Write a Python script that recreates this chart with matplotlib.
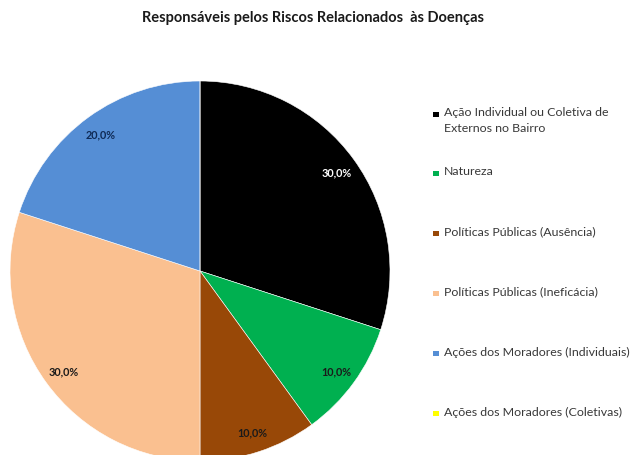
import matplotlib
matplotlib.use("Agg")
import matplotlib.pyplot as plt
from matplotlib.patches import Rectangle

# data
categories = [
    "Ação Individual ou Coletiva de\nExternos no Bairro",
    "Natureza",
    "Políticas Públicas (Ausência)",
    "Políticas Públicas (Ineficácia)",
    "Ações dos Moradores (Individuais)",
    "Ações dos Moradores (Coletivas)",
]
shares = [30.0, 10.0, 10.0, 30.0, 20.0, 0.0]
colors = ["#000000", "#00B050", "#984807", "#FAC090", "#558ED5", "#FFFF00"]
label_colors = ["white", "#1a1a1a", "#1a1a1a", "#1a1a1a", "#0f2a55", "#1a1a1a"]

title = "Responsáveis pelos Riscos Relacionados  às Doenças"

W, H = 631, 456
fig = plt.figure(figsize=(W / 100, H / 100), dpi=100)
plt.rcParams['font.family'] = ['Lato', 'DejaVu Sans']

# pie axes: center (200, 272) px, radius 190 px
cx, cy, r = 200, 272, 190
ax = fig.add_axes([(cx - r) / W, (H - cy - r) / H, 2 * r / W, 2 * r / H])
ax.set_aspect('equal')
ax.axis('off')


def fmt(p):
    if p < 0.05:
        return ''
    return f"{p:.1f}%".replace('.', ',')


wedges, texts, autotexts = ax.pie(
    shares, colors=colors, startangle=90, counterclock=False,
    autopct=fmt, pctdistance=0.89, radius=1.0,
    wedgeprops=dict(linewidth=0.4, edgecolor='white'),
    textprops=dict(fontsize=7.8, fontweight='bold'),
)
ax.set_xlim(-1, 1)
ax.set_ylim(-1, 1)
for t, c in zip(autotexts, label_colors):
    t.set_color(c)

fig.text(313 / W, 1 - 18 / H, title, ha='center', va='center',
         fontsize=10.5, fontweight='bold', color='#1a1a1a')

# legend drawn by hand: square marker + text, one row every ~60 px
y0 = 115
for i, (lab, col) in enumerate(zip(categories, colors)):
    y = y0 + 60 * i - (1 if i > 0 else 0)
    fig.patches.append(Rectangle((433 / W, 1 - (y + 3) / H), 5.5 / W, 5.5 / H,
                                 transform=fig.transFigure, facecolor=col,
                                 edgecolor='none'))
    fig.text(444 / W, 1 - (y - 7.5) / H, lab, ha='left', va='top',
             fontsize=8.9, color='#383838', linespacing=1.55)

fig.savefig("out.png", dpi=100)
